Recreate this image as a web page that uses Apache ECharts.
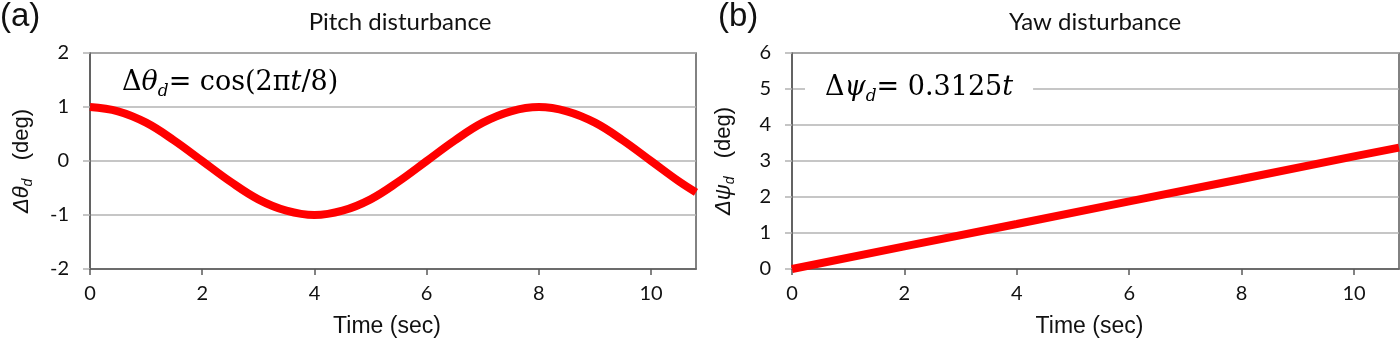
<!DOCTYPE html>
<html>
<head>
<meta charset="utf-8">
<script src="https://cdn.jsdelivr.net/npm/echarts@6/dist/echarts.min.js"></script>
<style>
  html, body { margin: 0; padding: 0; background: #fff; }
  #chart { width: 1400px; height: 343px; }
</style>
</head>
<body>
<div id="chart"></div>
<script>
// pitch disturbance (deg)
const pitchTime = [0, 0.5, 1, 1.5, 2, 2.5, 3, 3.5, 4, 4.5, 5, 5.5, 6, 6.5, 7, 7.5, 8, 8.5, 9, 9.5, 10, 10.5, 10.8];
const pitchDeg  = [1, 0.92, 0.71, 0.38, 0, -0.38, -0.71, -0.92, -1, -0.92, -0.71, -0.38, 0, 0.38, 0.71, 0.92, 1, 0.92, 0.71, 0.38, 0, -0.38, -0.58];
// yaw disturbance (deg)
const yawTime = [0, 2, 4, 6, 8, 10, 10.8];
const yawDeg  = [0, 0.63, 1.25, 1.88, 2.5, 3.13, 3.37];

const pitchY = { min: -2, max: 2, interval: 1 };
const yawY = { min: 0, max: 6, interval: 1 };
const timeX = { min: 0, max: 10.8, interval: 2 };

const lineRed = '#ff0000';
const darkGray = '#595959';
const gridGray = '#b3b3b3';
const ink = '#111';
const labelFont = 'Lato';

function zip(xs, ys) {
  return xs.map(function (x, i) { return [x, ys[i]]; });
}

function xAxisFor(gridIndex) {
  return {
    type: 'value',
    gridIndex: gridIndex,
    min: timeX.min, max: timeX.max, interval: timeX.interval,
    name: 'Time (sec)',
    nameLocation: 'middle',
    nameGap: 46,
    nameTextStyle: { fontFamily: 'Liberation Sans', fontSize: 23, color: ink, padding: [0, 12, 0, 0] },
    axisLine: { show: true, onZero: false, lineStyle: { color: darkGray, width: 1.5 } },
    axisTick: { show: true, length: 6, lineStyle: { color: darkGray, width: 1.5 } },
    axisLabel: {
      margin: 15, fontFamily: labelFont, fontSize: 20, color: ink,
      showMaxLabel: false
    },
    splitLine: { show: false }
  };
}

function yAxisFor(gridIndex, range, symbol) {
  return {
    type: 'value',
    gridIndex: gridIndex,
    min: range.min, max: range.max, interval: range.interval,
    name: '{g|Δ' + symbol + '}{s|d}{n|   (deg)}',
    nameLocation: 'middle',
    nameRotate: 90,
    nameGap: 55,
    nameTextStyle: {
      rich: {
        g: { fontFamily: 'Liberation Sans', fontSize: 22, fontStyle: 'italic', color: ink, lineHeight: 26 },
        s: { fontFamily: 'Liberation Sans', fontSize: 14, fontStyle: 'italic', color: ink, lineHeight: 14, verticalAlign: 'bottom' },
        n: { fontFamily: 'Liberation Sans', fontSize: 22, color: ink, lineHeight: 26 }
      }
    },
    axisLine: { show: true, lineStyle: { color: darkGray, width: 1.5 } },
    axisTick: { show: true, length: 7, lineStyle: { color: gridGray, width: 1.5 } },
    axisLabel: { margin: 21, fontFamily: labelFont, fontSize: 20, color: ink },
    splitLine: { show: true, lineStyle: { color: gridGray, width: 1.5 } }
  };
}

// text segments: d = upright, g = italic, s = subscript
function formula(x, y, text) {
  return {
    type: 'text',
    x: x, y: y, z: 100,
    style: {
      text: text,
      backgroundColor: '#fff',
      padding: [2, 20, 2, 20],
      rich: {
        d: { fontFamily: 'DejaVu Serif', fontSize: 27, color: ink, lineHeight: 34 },
        g: { fontFamily: 'DejaVu Serif', fontSize: 27, fontStyle: 'italic', color: ink, lineHeight: 34 },
        s: { fontFamily: 'DejaVu Serif', fontSize: 17, fontStyle: 'italic', color: ink, lineHeight: 17, verticalAlign: 'bottom' }
      }
    }
  };
}

const chart = echarts.init(document.getElementById('chart'), null, { renderer: 'canvas' });
chart.setOption({
  backgroundColor: '#fff',
  animation: false,
  grid: [
    { left: 90, right: 704, top: 53, bottom: 73, show: true, borderColor: darkGray, borderWidth: 1.5, backgroundColor: 'transparent' },
    { left: 792, right: 1, top: 53, bottom: 73, show: true, borderColor: darkGray, borderWidth: 1.5, backgroundColor: 'transparent' }
  ],
  xAxis: [xAxisFor(0), xAxisFor(1)],
  yAxis: [yAxisFor(0, pitchY, 'θ'), yAxisFor(1, yawY, 'ψ')],
  series: [
    {
      name: 'pitch', type: 'line', xAxisIndex: 0, yAxisIndex: 0,
      data: zip(pitchTime, pitchDeg), smooth: 0.4, showSymbol: false,
      lineStyle: { color: lineRed, width: 8 }
    },
    {
      name: 'yaw', type: 'line', xAxisIndex: 1, yAxisIndex: 1,
      data: zip(yawTime, yawDeg), showSymbol: false,
      lineStyle: { color: lineRed, width: 8 }
    }
  ],
  graphic: [
    { type: 'text', x: 0, y: 0, style: { text: '(a)', fontFamily: 'Liberation Sans', fontSize: 33, fill: ink } },
    { type: 'text', x: 718, y: 0, style: { text: '(b)', fontFamily: 'Liberation Sans', fontSize: 33, fill: ink } },
    { type: 'text', x: 400, y: 22, style: { text: 'Pitch disturbance', fontFamily: labelFont, fontSize: 24, fill: ink, align: 'center', verticalAlign: 'middle' } },
    { type: 'text', x: 1095, y: 22, style: { text: 'Yaw disturbance', fontFamily: labelFont, fontSize: 24, fill: ink, align: 'center', verticalAlign: 'middle' } },
    formula(102, 64, '{d|Δ}{g|θ}{s|d}{d|= cos(2π}{g|t}{d|/8)}'),
    formula(805, 69, '{d|Δ}{g|ψ}{s|d}{d|= 0.3125}{g|t}')
  ]
});
</script>
</body>
</html>
